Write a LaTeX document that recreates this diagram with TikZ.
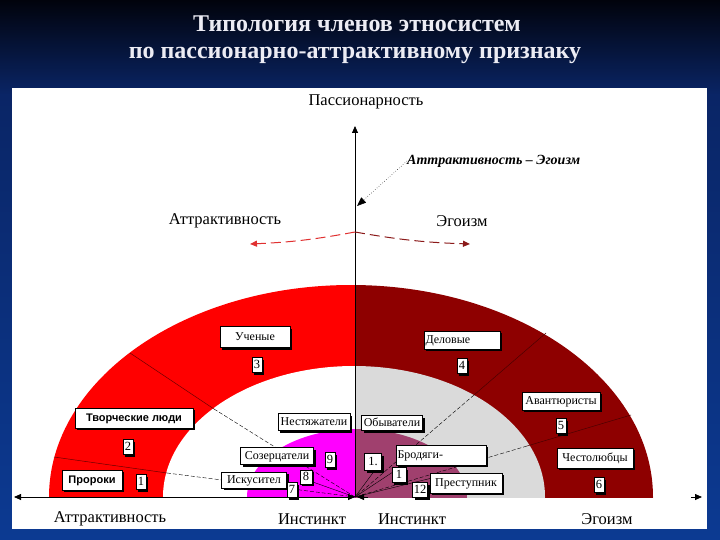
\documentclass[tikz,border=0pt]{standalone}
\usepackage{fontspec}
\setmainfont{Liberation Serif}
\newfontfamily\sansb{Liberation Sans}
\usetikzlibrary{arrows.meta,shadows}
\definecolor{bgtop}{HTML}{01030C}
\definecolor{bgmid}{HTML}{0A2566}
\definecolor{bgbot}{HTML}{0C3A92}
\definecolor{redA}{HTML}{FF0000}
\definecolor{darkredA}{HTML}{8E0000}
\definecolor{grayA}{HTML}{DADADA}
\definecolor{magA}{HTML}{FF00FF}
\definecolor{mauveA}{HTML}{A0406E}
\definecolor{arrRed}{HTML}{E03030}
\definecolor{arrDark}{HTML}{8B1A1A}
\definecolor{titleC}{HTML}{ECECF4}
\definecolor{lineR}{HTML}{6A0000}
\definecolor{lineD}{HTML}{4A0000}
\tikzset{axtip/.tip={Triangle[length=7pt,width=6pt]}}
\begin{document}
\begin{tikzpicture}[x=1pt,y=-1pt,
  lbl/.style={inner sep=0pt, font=\fontsize{16.5}{16.5}\selectfont},
  cbox/.style={draw=black, line width=0.6pt, fill=white, inner sep=1.5pt,
    font=\fontsize{12}{12}\selectfont, minimum height=18pt,
    text height=8.5pt, text depth=2.5pt,
    drop shadow={shadow xshift=2pt,shadow yshift=-2pt,opacity=1,fill=black}},
  sbox/.style={cbox, font=\sansb\bfseries\fontsize{11}{11}\selectfont},
  nbox/.style={cbox, font=\fontsize{12.5}{12.5}\selectfont, minimum height=15pt, minimum width=10pt, inner sep=1pt},
  divline/.style={line width=0.5pt, lineR},
  divlineD/.style={line width=0.5pt, lineD},
  divdash/.style={line width=0.4pt, black, dash pattern=on 4pt off 2pt},
  axis/.style={line width=0.8pt, black}
]
\useasboundingbox (0,0) rectangle (720,540);
% background
\shade[top color=bgtop,bottom color=bgmid] (0,0) rectangle (720,95);
\shade[top color=bgmid,bottom color=bgbot] (0,95) rectangle (720,540);
\fill[white] (12,88) rectangle (707,529);
% title
\node[font=\bfseries\fontsize{24}{24}\selectfont, text=titleC] (t1) at (357,24) {Типология членов этносистем};
\node[font=\bfseries\fontsize{24}{24}\selectfont, text=titleC] (t2) at (355,55) {по пассионарно-аттрактивному признаку};
% regions
\begin{scope}
  \clip (0,0) rectangle (355,497);
  \fill[redA] (351,497) ellipse [x radius=302, y radius=212];
  \fill[white] (354,497) ellipse [x radius=191, y radius=131];
  \fill[magA] (357,497) ellipse [x radius=110, y radius=68];
\end{scope}
\begin{scope}
  \clip (355,0) rectangle (720,497);
  \fill[darkredA] (351,497) ellipse [x radius=302, y radius=212];
  \fill[grayA] (354,497) ellipse [x radius=191, y radius=131];
  \fill[mauveA] (357,497) ellipse [x radius=110, y radius=68];
\end{scope}
% coordinates
\coordinate (O) at (355,497);
\coordinate (A1) at (54,457);   \coordinate (A2) at (167,473);
\coordinate (B1) at (130,353);  \coordinate (B2) at (214,409);
\coordinate (C1) at (546,333);  \coordinate (C2) at (474,395);
\coordinate (D1) at (631,415);  \coordinate (D2) at (527,446);
\coordinate (E1) at (310,481);
\coordinate (F1) at (378,466);  \coordinate (F2) at (402,466);  \coordinate (F3) at (432,478);
% dividers
\draw[divline] (A1) -- (A2);  \draw[divdash] (A2) -- (O);
\draw[divline] (B1) -- (B2);  \draw[divdash] (B2) -- (O);
\draw[divlineD] (C1) -- (C2);  \draw[divdash] (C2) -- (O);
\draw[divlineD] (D1) -- (D2);  \draw[divdash] (D2) -- (O);
\draw[divdash, solid] (O) -- (E1);
\draw[divdash, solid] (O) -- (F1);
\draw[divdash, solid] (O) -- (F2);
\draw[divdash, solid] (O) -- (F3);
% axes
\coordinate (top) at (355,126);
\coordinate (Lend) at (14,497);
\coordinate (Rstub) at (368,497);
\coordinate (Rin) at (357,497);
\coordinate (Rs) at (691,497);
\coordinate (Rend) at (702,497);
\draw[axis,axtip-axtip] (Lend) -- (O);
\draw[axis,-axtip] (Rstub) -- (Rin);
\draw[axis,-axtip] (Rs) -- (Rend);
\draw[axis,-axtip] (O) -- (top);
% top labels
\node[lbl] (pas) at (366,102) {Пассионарность};
\node[lbl] (attT) at (225,221) {Аттрактивность};
\node[lbl] (egoT) at (462,221) {Эгоизм};
\node[anchor=west, inner sep=0pt, font=\bfseries\itshape\fontsize{14}{14}\selectfont] (ae) at (407,161) {Аттрактивность – Эгоизм};
\coordinate (aetip) at (357,206);
\draw[line width=0.5pt, dotted, -{Triangle[length=9pt,width=7pt]}] (ae.west) -- (aetip);
\coordinate (ac) at (355,232);
\coordinate (attL) at (250,244);
\coordinate (egoR) at (470,244);
\draw[arrRed, line width=1pt, dash pattern=on 10pt off 5pt, -{Triangle[length=7pt,width=6pt]}] (ac) to[bend left=4] (attL);
\draw[arrDark, line width=1pt, dash pattern=on 10pt off 5pt, -{Triangle[length=7pt,width=6pt]}] (ac) to[bend right=4] (egoR);
% bottom labels
\node[lbl] (attB) at (110,519) {Аттрактивность};
\node[lbl] (instL) at (312,519) {Инстинкт};
\node[lbl] (instR) at (412,519) {Инстинкт};
\node[lbl] (egoB) at (607,519) {Эгоизм};
% boxes
\node[cbox, minimum width=70pt, minimum height=21pt] (uch) at (255,337) {Ученые};
\node[nbox] (n3) at (257,365) {3};
\node[cbox, text width=73pt, align=left] (del) at (462,340) {Деловые};
\node[nbox] (n4) at (462,366) {4};
\node[cbox, minimum width=78pt] (avan) at (561,401) {Авантюристы};
\node[nbox] (n5) at (561,426) {5};
\node[cbox, minimum width=76pt, minimum height=20pt] (chest) at (595,458) {Честолюбцы};
\node[nbox] (n6) at (599,485) {6};
\node[sbox, minimum width=118pt, minimum height=20pt] (tvor) at (134,418) {Творческие люди};
\node[nbox] (n2) at (128,447) {2};
\node[sbox, minimum width=60pt, minimum height=20pt] (pror) at (92,480) {Пророки};
\node[nbox] (n1) at (141,482) {1};
\node[cbox, minimum width=72pt, minimum height=17pt] (nest) at (314,422) {Нестяжатели};
\node[cbox, minimum width=73pt, minimum height=17pt] (soz) at (277,456) {Созерцатели};
\node[nbox] (n9) at (330,460) {9};
\node[nbox, minimum width=12pt, minimum height=14pt] (n8) at (306,477) {8};
\node[cbox, minimum width=65pt, minimum height=16pt] (isk) at (254,480) {Искусител};
\node[nbox] (n7) at (292,490) {7};
\node[cbox, minimum width=61pt, minimum height=15pt] (oby) at (392,423) {Обыватели};
\node[nbox, minimum width=17pt, minimum height=17pt] (n10) at (373,462) {1.};
\node[cbox, text width=87pt, align=left, minimum height=20pt] (brod) at (441,455) {Бродяги-};
\node[nbox, minimum width=14pt] (n11) at (399,475) {1};
\node[nbox, minimum width=15pt] (n12) at (420,490) {12};
\node[cbox, minimum width=72pt, minimum height=20pt] (prest) at (466,483) {Преступник};
\end{tikzpicture}
\end{document}
